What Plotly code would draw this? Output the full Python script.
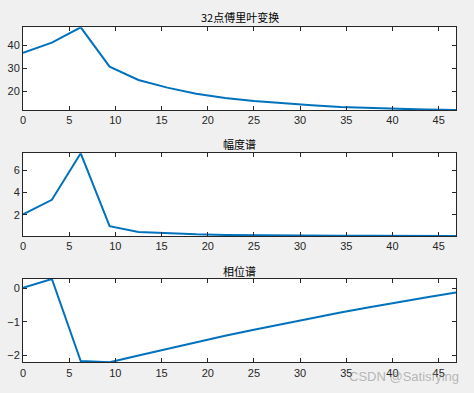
import plotly.graph_objects as go

freq = [k * 100 / 32 for k in range(16)]
fft32 = [36.7, 41.0, 47.6, 30.7, 25.0, 21.7, 19.1, 17.3, 16.0, 15.0, 14.1, 13.4, 12.9, 12.6, 12.3, 12.1]
magnitude = [2.06, 3.35, 7.5, 1.0, 0.49, 0.35, 0.27, 0.22, 0.19, 0.17, 0.155, 0.145, 0.138, 0.132, 0.128, 0.125]
phase = [0.02, 0.28, -2.16, -2.2, -1.995, -1.795, -1.6, -1.41, -1.23, -1.055, -0.885, -0.72, -0.56, -0.405, -0.26, -0.12]

titles = ["32点傅里叶变换", "幅度谱", "相位谱"]
xticks = [0, 5, 10, 15, 20, 25, 30, 35, 40, 45]
yticks = [[20, 30, 40], [2, 4, 6], [-2, -1, 0]]
yranges = [[12.1, 47.6], [0.125, 7.5], [-2.2, 0.28]]
series = [fft32, magnitude, phase]

W, H = 474, 393
boxes = [(27.3, 110.0), (153.3, 236.0), (279.0, 362.3)]
title_y = [17.3, 144.0, 270.5]
x0, x1 = 23, 456

fig = go.Figure()
axcol = "#262626"
for i in range(3):
    xa = "x" if i == 0 else f"x{i+1}"
    ya = "y" if i == 0 else f"y{i+1}"
    fig.add_trace(go.Scatter(x=freq, y=series[i], mode="lines",
                             line=dict(color="#0072BD", width=2),
                             xaxis=xa, yaxis=ya, showlegend=False, hoverinfo="skip"))
    top, bot = boxes[i]
    common = dict(showline=True, linecolor=axcol, linewidth=1, mirror="ticks",
                  ticks="inside", ticklen=4, tickcolor=axcol, tickwidth=1,
                  showgrid=False, zeroline=False, automargin=False,
                  tickfont=dict(family="Liberation Sans, Arial", size=11, color=axcol))
    fig.update_layout(**{
        ("xaxis" if i == 0 else f"xaxis{i+1}"): dict(
            domain=[x0 / W, x1 / W], range=[0, freq[-1]], tickvals=xticks,
            anchor=ya, **common),
        ("yaxis" if i == 0 else f"yaxis{i+1}"): dict(
            domain=[1 - bot / H, 1 - top / H], range=yranges[i], tickvals=yticks[i],
            anchor=xa, **common),
    })
    fig.add_annotation(text=titles[i], x=(x0 + x1) / 2 / W, y=1 - title_y[i] / H,
                       xref="paper", yref="paper", showarrow=False,
                       xanchor="center", yanchor="middle",
                       font=dict(family="Noto Sans CJK SC", size=11, color="#000000"))

fig.add_annotation(text="CSDN @Satisfying", x=404 / W, y=1 - 376 / H,
                   xref="paper", yref="paper", showarrow=False,
                   xanchor="center", yanchor="middle",
                   font=dict(family="Liberation Sans, Arial", size=13, color="rgba(130,130,130,0.55)"))

fig.update_layout(width=W, height=H, margin=dict(l=0, r=0, t=0, b=0),
                  paper_bgcolor="#f0f0f0", plot_bgcolor="#ffffff")

fig.write_html("out.html", config={"displayModeBar": False},
               post_script="document.body.style.margin='0px';document.body.style.background='#f0f0f0';")
